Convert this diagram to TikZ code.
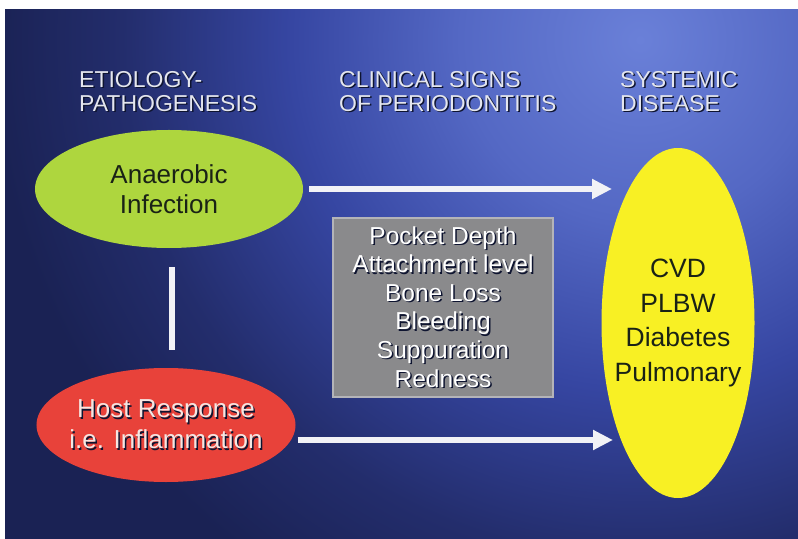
\documentclass[tikz,border=0pt]{standalone}
\usepackage{fontspec}
\setmainfont{Liberation Sans}
\usetikzlibrary{shapes.geometric,arrows.meta}
\definecolor{bgA}{HTML}{6A80D8}
\definecolor{bgB}{HTML}{5468C4}
\definecolor{bgC}{HTML}{3646A2}
\definecolor{bgD}{HTML}{232D6C}
\definecolor{bgE}{HTML}{1A2254}
\definecolor{greenE}{HTML}{AED63E}
\definecolor{redE}{HTML}{E8423A}
\definecolor{yellowE}{HTML}{F8F024}
\definecolor{grayBox}{HTML}{8A8A8C}
\definecolor{grayEdge}{HTML}{B4B4B8}
\definecolor{headTxt}{HTML}{E4E6EE}
\definecolor{shadowC}{HTML}{0E1430}
\definecolor{darkTxt}{HTML}{1A2216}
\definecolor{lightTxt}{HTML}{F6E6E2}
\definecolor{arrowC}{HTML}{F2F2F6}
\pgfdeclareradialshading{bgshade}{\pgfpoint{0bp}{0bp}}{color(0bp)=(bgA); color(5bp)=(bgB); color(9.7bp)=(bgC); color(14.4bp)=(bgD); color(18bp)=(bgE); color(50bp)=(bgE)}
\newcommand\shd[1]{\leavevmode\rlap{\kern1.5bp\raisebox{-1.5bp}{\color{shadowC}#1}}#1}
\begin{document}
\begin{tikzpicture}[x=1bp,y=-1bp,
  head/.style={font=\fontsize{23bp}{24bp}\selectfont, text=headTxt, align=left, inner sep=0pt, anchor=west},
  oval/.style={ellipse, inner xsep=-15bp, inner ysep=0pt, align=center},
  flow/.style={draw=arrowC, line width=6.5bp, -{Triangle[length=20bp,width=19bp]}},
  link/.style={draw=arrowC, line width=6bp}]
\useasboundingbox (0,0) rectangle (798,539);
\fill[white] (0,0) rectangle (798,539);
\begin{scope}
  \clip (5,10) rectangle (798,539);
  \shade[shading=bgshade] (640,40) circle[radius=900];
\end{scope}
% headers
\node[head] (h1) at (79,92) {\shd{ETIOLOGY-}\\\shd{PATHOGENESIS}};
\node[head] (h2) at (339,92) {\shd{CLINICAL SIGNS}\\\shd{OF PERIODONTITIS}};
\node[head] (h3) at (620,92) {\shd{SYSTEMIC}\\\shd{DISEASE}};
% nodes
\node[oval, fill=greenE, minimum width=268bp, minimum height=118bp, text=darkTxt,
  font=\fontsize{26bp}{30bp}\selectfont] (inf) at (169,189) {Anaerobic\\Infection};
\node[oval, fill=redE, minimum width=259bp, minimum height=114bp, text=lightTxt,
  font=\fontsize{26bp}{31bp}\selectfont] (host) at (166,425) {\shd{Host Response}\\\shd{i.e. Inflammation}};
\node[rectangle, fill=grayBox, draw=grayEdge, line width=1.5bp, minimum width=220bp, minimum height=179bp,
  inner sep=0pt, text=white, align=center, font=\fontsize{24.5bp}{28.6bp}\selectfont] (signs) at (443,307.5)
  {\shd{Pocket Depth}\\\shd{Attachment level}\\\shd{Bone Loss}\\\shd{Bleeding}\\\shd{Suppuration}\\\shd{Redness}};
\node[oval, fill=yellowE, minimum width=153bp, minimum height=350bp, text=darkTxt,
  font=\fontsize{26.5bp}{34.5bp}\selectfont] (sys) at (678,323) {CVD\\PLBW\\Diabetes\\Pulmonary};
% connectors
\coordinate (t1) at (612,189);
\coordinate (t2) at (613,440);
\draw[flow] ([shift={(6,0)}]inf.east) -- (t1);
\draw[flow] ([shift={(2,15)}]host.east) -- (t2);
\draw[link] ([shift={(3,19)}]inf.south) -- ([shift={(6,-18)}]host.north);
\end{tikzpicture}
\end{document}
